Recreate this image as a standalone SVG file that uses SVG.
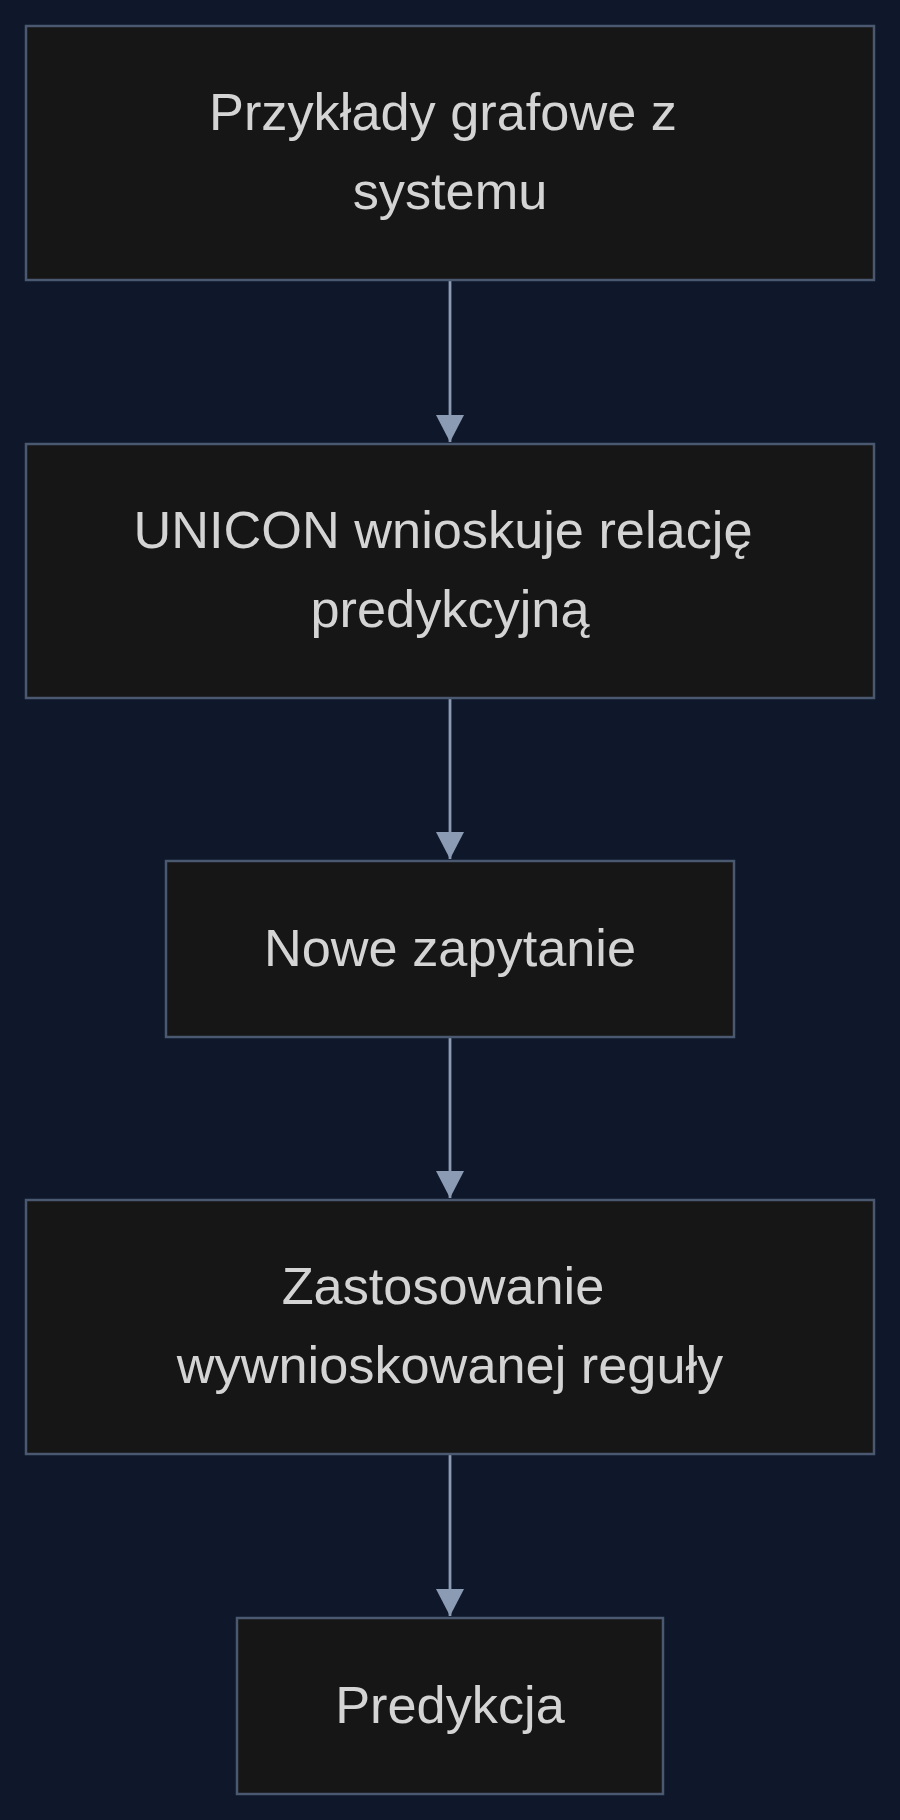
<svg xmlns="http://www.w3.org/2000/svg" width="900" height="1820" viewBox="0 0 900 1820">
<style>
.node rect{fill:#161616;stroke:#4a5870;stroke-width:2.5}
.node text{font-family:"Liberation Sans",Arial,sans-serif;font-size:52.3px;fill:#d4d4d4;text-anchor:middle}
.edge{stroke:#8c9bb4;stroke-width:2.8;fill:none}
</style>
<defs>
<marker id="ah" markerUnits="userSpaceOnUse" markerWidth="27" markerHeight="28" refX="27" refY="14" orient="auto" viewBox="0 0 27 28">
<path d="M0,0 L27,14 L0,28 z" fill="#8c9bb4"/>
</marker>
</defs>
<rect width="900" height="1820" fill="#0f172a"/>
<g id="connectors">
<line class="edge" x1="450" y1="281" x2="450" y2="442" marker-end="url(#ah)"/>
<line class="edge" x1="450" y1="699" x2="450" y2="859" marker-end="url(#ah)"/>
<line class="edge" x1="450" y1="1038" x2="450" y2="1198" marker-end="url(#ah)"/>
<line class="edge" x1="450" y1="1455" x2="450" y2="1616" marker-end="url(#ah)"/>
</g>
<g id="n1" class="node">
<rect x="26" y="26" width="848" height="254"/>
<text x="443" y="130">Przykłady grafowe z</text>
<text x="450" y="209">systemu</text>
</g>
<g id="n2" class="node">
<rect x="26" y="444" width="848" height="254"/>
<text x="443" y="548">UNICON wnioskuje relację</text>
<text x="450" y="627">predykcyjną</text>
</g>
<g id="n3" class="node">
<rect x="166" y="861" width="568" height="176"/>
<text x="450" y="965.5">Nowe zapytanie</text>
</g>
<g id="n4" class="node">
<rect x="26" y="1200" width="848" height="254"/>
<text x="443" y="1304">Zastosowanie</text>
<text x="450" y="1383">wywnioskowanej reguły</text>
</g>
<g id="n5" class="node">
<rect x="237" y="1618" width="426" height="176"/>
<text x="450" y="1722.5">Predykcja</text>
</g>
</svg>
